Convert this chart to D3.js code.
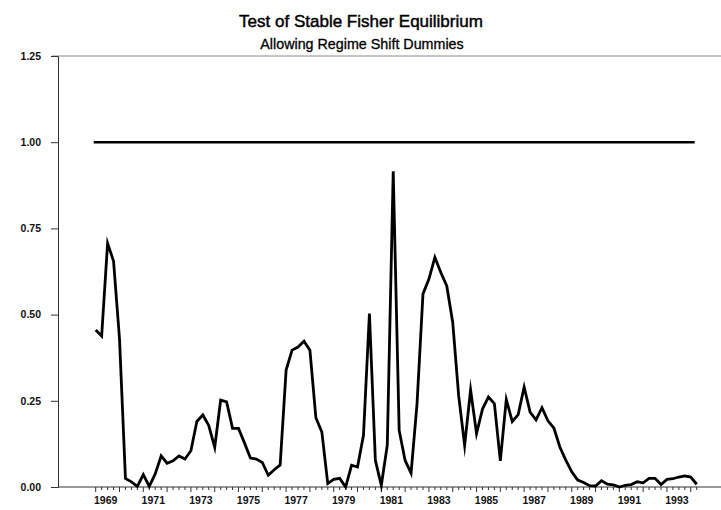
<!DOCTYPE html>
<html>
<head>
<meta charset="utf-8">
<script src="https://cdn.jsdelivr.net/npm/d3@7/dist/d3.min.js"></script>
<style>
  html, body { margin: 0; padding: 0; background: #fff; }
  svg { display: block; font-family: "Liberation Sans", Arial, sans-serif; }
</style>
</head>
<body>
<svg id="chart" width="721" height="510"></svg>
<script>
// ---- data (quarterly, starting 1969 Q1) ----
const title = "Test of Stable Fisher Equilibrium";
const subtitle = "Allowing Regime Shift Dummies";
const startYear = 1969;
const coefficient = [
  0.455, 0.438, 0.707, 0.655, 0.430, 0.025, 0.015, 0.002,
  0.036, 0.002, 0.038, 0.090, 0.069, 0.076, 0.090, 0.081,
  0.105, 0.190, 0.209, 0.178, 0.115, 0.252, 0.247, 0.170,
  0.170, 0.128, 0.084, 0.081, 0.071, 0.034, 0.050, 0.064,
  0.339, 0.397, 0.406, 0.423, 0.397, 0.201, 0.160, 0.010,
  0.022, 0.025, 0.000, 0.063, 0.058, 0.150, 0.503, 0.077,
  0.005, 0.121, 0.916, 0.164, 0.077, 0.040, 0.241, 0.560,
  0.603, 0.666, 0.622, 0.583, 0.477, 0.264, 0.121, 0.282,
  0.155, 0.226, 0.261, 0.242, 0.076, 0.254, 0.190, 0.210,
  0.290, 0.217, 0.195, 0.230, 0.192, 0.171, 0.116, 0.078,
  0.044, 0.020, 0.013, 0.004, 0.003, 0.018, 0.008, 0.006,
  0.000, 0.005, 0.007, 0.015, 0.012, 0.025, 0.025, 0.007,
  0.022, 0.024, 0.029, 0.032, 0.029, 0.008
];
const nullValue = 1.0;
const yTicks = [0, 0.25, 0.5, 0.75, 1.0, 1.25];
const xLabels = ["1969","1971","1973","1975","1977","1979","1981","1983","1985","1987","1989","1991","1993"];

// ---- layout ----
const svg = d3.select("#chart");
const axisLeftX = 58, axisRightX = 721;
const endYear = startYear + (coefficient.length - 1) / 4;

const x = d3.scaleLinear().domain([startYear, endYear]).range([95.7, 696.7]);
const y = d3.scaleLinear().domain([0, 1.25]).range([487, 56]);

// Title
svg.append("text").attr("x", 361).attr("y", 27)
  .attr("text-anchor", "middle").attr("font-size", 17)
  .attr("fill", "#000").attr("stroke", "#000").attr("stroke-width", 0.45)
  .text(title);
svg.append("text").attr("x", 362).attr("y", 49)
  .attr("text-anchor", "middle").attr("font-size", 14.3)
  .attr("fill", "#000").attr("stroke", "#000").attr("stroke-width", 0.3)
  .text(subtitle);

// Top frame line
svg.append("line")
  .attr("x1", axisLeftX - 6).attr("x2", axisRightX)
  .attr("y1", y(1.25)).attr("y2", y(1.25))
  .attr("stroke", "#8a8a8a").attr("stroke-width", 1);

// Y axis
const yAxis = d3.axisLeft(y).tickValues(yTicks).tickSize(7).tickPadding(10)
  .tickFormat(d3.format(".2f"));
const gy = svg.append("g").attr("transform", `translate(${axisLeftX},0)`).call(yAxis);
gy.select(".domain").attr("stroke", "#333").attr("stroke-width", 1);
gy.selectAll(".tick line").attr("stroke", "#333");
gy.selectAll(".tick text").attr("font-size", 10.5).attr("font-weight", "bold")
  .attr("font-family", "Liberation Sans, Arial, sans-serif").attr("fill", "#111");

// X axis line
svg.append("line")
  .attr("x1", axisLeftX).attr("x2", axisRightX)
  .attr("y1", y(0)).attr("y2", y(0))
  .attr("stroke", "#333").attr("stroke-width", 1);

// Quarterly ticks
const qTicks = d3.range(coefficient.length).map(i => startYear + i / 4);
const gx = svg.append("g");
gx.selectAll("line.q").data(qTicks).enter().append("line")
  .attr("x1", d => x(d)).attr("x2", d => x(d))
  .attr("y1", y(0)).attr("y2", d => y(0) + (Number.isInteger(d) ? 5 : 3))
  .attr("stroke", "#333").attr("stroke-width", 1);

// Year labels
gx.selectAll("text.yl").data(xLabels).enter().append("text")
  .attr("x", d => x(+d) + 10).attr("y", 504)
  .attr("text-anchor", "middle").attr("font-size", 10.5).attr("font-weight", "bold")
  .attr("fill", "#111").text(d => d);

// Null hypothesis line at 1.00
svg.append("line")
  .attr("x1", x(startYear) - 2).attr("x2", x(endYear) - 2)
  .attr("y1", y(nullValue)).attr("y2", y(nullValue))
  .attr("stroke", "#000").attr("stroke-width", 2.4);

// Coefficient series
const line = d3.line()
  .x((d, i) => x(startYear + i / 4))
  .y(d => y(d));
svg.append("path").datum(coefficient)
  .attr("d", line).attr("fill", "none")
  .attr("stroke", "#000").attr("stroke-width", 2.8)
  .attr("stroke-linejoin", "miter").attr("stroke-miterlimit", 10);
</script>
</body>
</html>
